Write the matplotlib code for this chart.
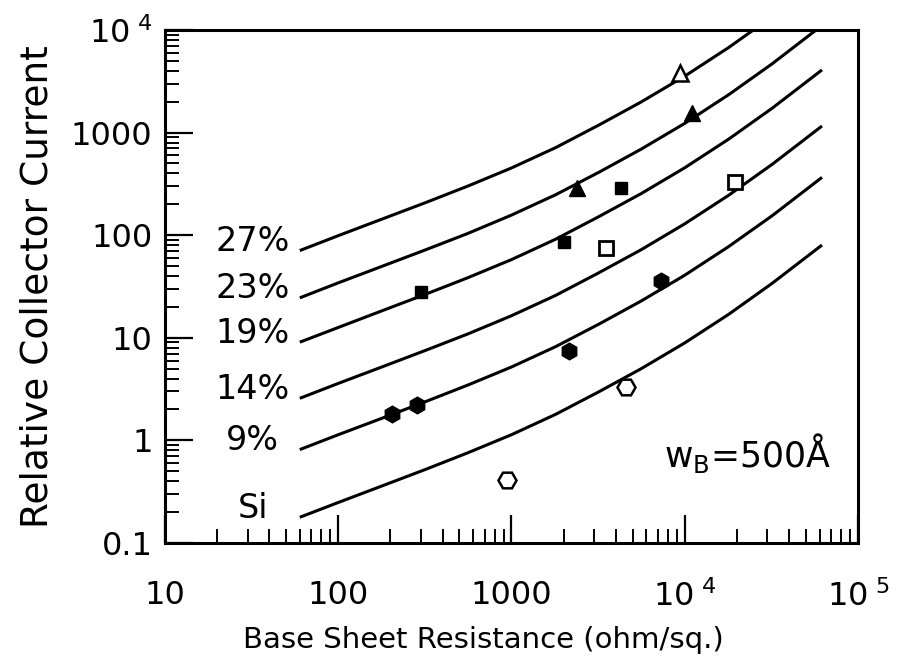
import matplotlib
matplotlib.use("Agg")
import matplotlib.pyplot as plt
from matplotlib.ticker import LogLocator, NullFormatter

plt.rcParams['font.family'] = ['DejaVu Sans']
plt.rcParams['mathtext.fontset'] = 'dejavusans'

# ---- data ----
rs = [60, 100, 180, 320, 560, 1000, 1800, 3200, 5600, 10000, 18000, 32000, 62000]
cur_27 = [70.8, 98.9, 144, 208, 301, 452, 714, 1186, 1986, 3548, 6776, 13520, 31900]
cur_23 = [24.5, 34.3, 49.9, 72.1, 104, 157, 248, 411, 689, 1230, 2350, 4690, 11070]
cur_19 = [9.06, 12.6, 18.4, 26.6, 38.5, 57.8, 91.4, 152, 254, 454, 867, 1730, 4083]
cur_14 = [2.57, 3.59, 5.22, 7.55, 10.9, 16.4, 25.9, 43.1, 72.1, 129, 246, 491, 1159]
cur_9 = [0.813, 1.135, 1.65, 2.39, 3.46, 5.19, 8.20, 13.6, 22.8, 40.7, 77.8, 155, 366]
cur_si = [0.178, 0.248, 0.361, 0.522, 0.757, 1.135, 1.795, 2.98, 4.99, 8.91, 17.0, 34.0, 80.2]
curve_labels = ["27%", "23%", "19%", "14%", "9%", "Si"]

tri_open_x, tri_open_y = [9400], [3800]
tri_fill_x, tri_fill_y = [2400, 11000], [290, 1550]
sq_fill_x, sq_fill_y = [300, 2000, 4300], [28, 86, 290]
sq_open_x, sq_open_y = [3500, 19500], [75, 330]
hex_fill_x, hex_fill_y = [205, 285, 2150, 7300], [1.8, 2.2, 7.5, 36]
hex_open_x, hex_open_y = [940, 4600], [0.41, 3.3]

xticks = [10, 100, 1000, 1e4, 1e5]
xticklabels = ["10", "100", "1000", r"$\mathregular{10^{\ 4}}$", r"$\mathregular{10^{\ 5}}$"]
yticks = [0.1, 1, 10, 100, 1000, 1e4]
yticklabels = ["0.1", "1", "10", "100", "1000", r"$\mathregular{10^{\ 4}}$"]

# ---- figure ----
fig = plt.figure(figsize=(9, 6.65), dpi=100)
ax = fig.add_axes([0.1833, 0.1835, 0.770, 0.7714])
ax.set_xscale('log')
ax.set_yscale('log')
ax.set_xlim(10, 1e5)
ax.set_ylim(0.1, 1e4)

curves = [cur_27, cur_23, cur_19, cur_14, cur_9, cur_si]
for ys, lab in zip(curves, curve_labels):
    ax.plot(rs, ys, color='black', lw=2.2, solid_joinstyle='round', solid_capstyle='butt', zorder=2)
    ax.annotate(lab, xy=(rs[0], ys[0]), xytext=(-47, 9), textcoords='offset pixels',
                ha='center', va='center', fontsize=24, color='black')

mk = dict(linestyle='none', zorder=3, color='black')
ax.plot(tri_open_x, tri_open_y, marker='^', ms=12, mfc='white', mec='black', mew=1.8, **mk)
ax.plot(tri_fill_x, tri_fill_y, marker='^', ms=11, mfc='black', mec='black', **mk)
ax.plot(sq_fill_x, sq_fill_y, marker='s', ms=9, mfc='black', mec='black', **mk)
ax.plot(sq_open_x, sq_open_y, marker='s', ms=10, mfc='white', mec='black', mew=2.0, **mk)
ax.plot(hex_fill_x, hex_fill_y, marker='h', ms=12, mfc='black', mec='black', **mk)
ax.plot(hex_open_x, hex_open_y, marker='H', ms=13, mfc='white', mec='black', mew=1.8, **mk)

ax.text(0.962, 0.148, r"w$_\mathregular{B}$=500Å", transform=ax.transAxes,
        ha='right', va='baseline', fontsize=25)

ax.set_xticks(xticks)
ax.set_xticklabels(xticklabels)
ax.set_yticks(yticks)
ax.set_yticklabels(yticklabels)
ax.xaxis.set_minor_locator(LogLocator(base=10, subs=range(2, 10), numticks=20))
ax.yaxis.set_minor_locator(LogLocator(base=10, subs=range(2, 10), numticks=20))
ax.xaxis.set_minor_formatter(NullFormatter())
ax.yaxis.set_minor_formatter(NullFormatter())

ax.tick_params(which='both', direction='in', top=False, right=False, colors='black')
ax.tick_params(which='major', length=20, width=1.6)
ax.tick_params(which='minor', length=10, width=1.4)
ax.tick_params(axis='x', which='major', pad=27, labelsize=23)
ax.tick_params(axis='y', which='major', pad=9, labelsize=23)
for s in ax.spines.values():
    s.set_linewidth(2.2)
    s.set_color('black')

fig.text(483 / 900, 1 - 640 / 665, "Base Sheet Resistance (ohm/sq.)", ha='center', va='center', fontsize=21)
fig.text(38 / 900, 1 - 287 / 665, "Relative Collector Current", ha='center', va='center',
         rotation=90, fontsize=27)

fig.savefig("out.png", dpi=100)
